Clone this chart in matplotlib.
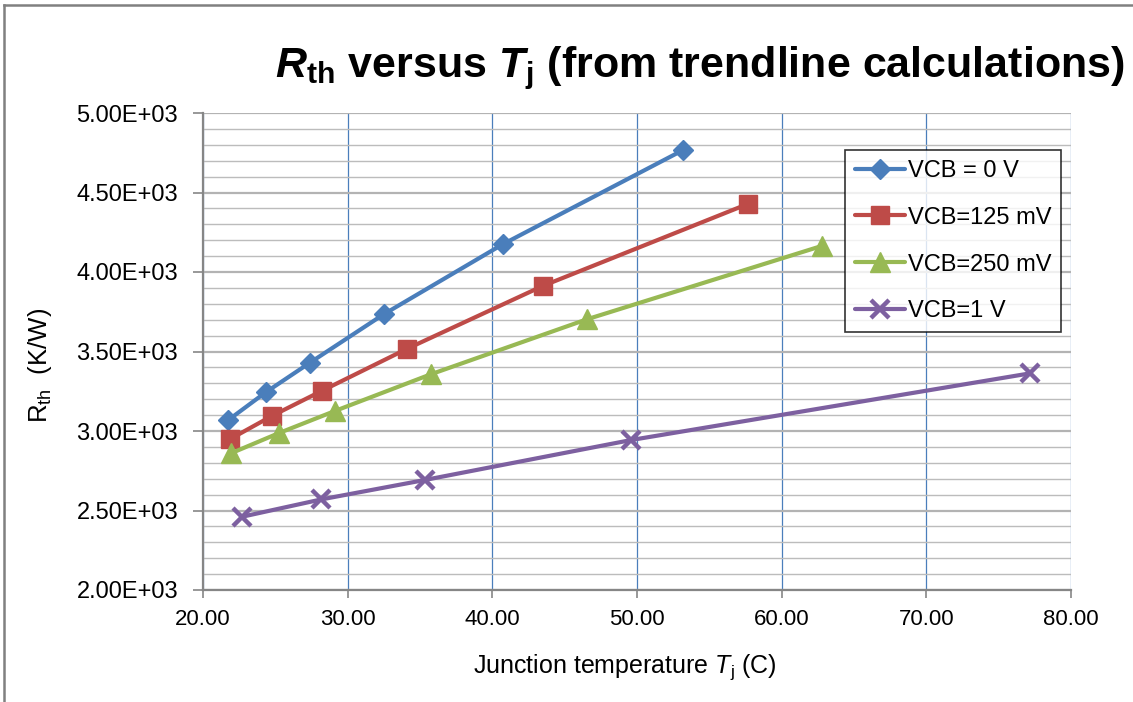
import matplotlib
matplotlib.use("Agg")
import matplotlib.pyplot as plt
from matplotlib.lines import Line2D
from matplotlib.ticker import MultipleLocator, FuncFormatter

# Junction temperature (C) and thermal resistance (K/W) for each collector-base bias
series_labels = ["VCB = 0 V", "VCB=125 mV", "VCB=250 mV", "VCB=1 V"]

tj_0v = [21.75, 24.33, 27.40, 32.49, 40.71, 53.19]
rth_0v = [3069, 3243, 3430, 3734, 4174, 4767]

tj_125mv = [21.89, 24.79, 28.25, 34.08, 43.48, 57.66]
rth_125mv = [2950, 3096, 3254, 3516, 3912, 4428]

tj_250mv = [21.94, 25.25, 29.12, 35.76, 46.52, 62.78]
rth_250mv = [2860, 2987, 3126, 3357, 3702, 4164]

tj_1v = [22.72, 28.19, 35.34, 49.58, 77.20]
rth_1v = [2461, 2570, 2692, 2943, 3363]

x_ticks = [20, 30, 40, 50, 60, 70, 80]
y_ticks = [2000, 2500, 3000, 3500, 4000, 4500, 5000]

FONT = "Liberation Sans"
plt.rcParams["font.family"] = [FONT, "DejaVu Sans"]
plt.rcParams["mathtext.fontset"] = "custom"
plt.rcParams["mathtext.rm"] = FONT
plt.rcParams["mathtext.it"] = FONT + ":italic"
plt.rcParams["mathtext.bf"] = FONT + ":bold"
plt.rcParams["mathtext.bfit"] = FONT + ":italic:bold"
plt.rcParams["mathtext.sf"] = FONT

W, H = 1133, 702
fig = plt.figure(figsize=(W / 100, H / 100), dpi=100)
fig.patch.set_facecolor("white")

# plot area in pixel coordinates
left, right, top, bottom = 203, 1071, 113, 590
ax = fig.add_axes([left / W, 1 - bottom / H, (right - left) / W, (bottom - top) / H])

styles = [
    dict(color="#4a7ebb", marker="D", ms=10),
    dict(color="#be4b48", marker="s", ms=13),
    dict(color="#98b954", marker="^", ms=14.5),
    dict(color="#7d60a0", marker="x", ms=13.5, mew=3.2),
]
data = [(tj_0v, rth_0v), (tj_125mv, rth_125mv), (tj_250mv, rth_250mv), (tj_1v, rth_1v)]

for (xs, ys), lab, st in zip(data, series_labels, styles):
    ax.plot(xs, ys, color=st["color"], lw=3.0, marker=st["marker"], ms=st["ms"],
            mfc=st["color"], mec=st["color"], mew=st.get("mew", 1), label=lab,
            zorder=3, solid_capstyle="round", solid_joinstyle="round")

ax.set_xlim(20, 80)
ax.set_ylim(2000, 5000)
ax.set_xticks(x_ticks)
ax.set_yticks(y_ticks)
ax.yaxis.set_minor_locator(MultipleLocator(100))
ax.xaxis.set_major_formatter(FuncFormatter(lambda v, p: f"{v:.2f}"))
ax.yaxis.set_major_formatter(FuncFormatter(lambda v, p: f"{v:.2E}"))

ax.grid(True, which="major", axis="y", color="#b3b3b3", lw=1.6, zorder=1)
ax.grid(True, which="minor", axis="y", color="#bcbcbc", lw=1.0, zorder=1)
ax.grid(True, which="major", axis="x", color="#4a7ebb", lw=0.9, zorder=1)
ax.set_axisbelow(True)

for s in ["top", "right"]:
    ax.spines[s].set_visible(False)
for s in ["left", "bottom"]:
    ax.spines[s].set_color("#868686")
    ax.spines[s].set_linewidth(1.6)

ax.tick_params(axis="y", which="major", direction="out", length=7, width=1.2,
               color="#868686", pad=11, labelsize=17, labelfontfamily=FONT)
ax.tick_params(axis="y", which="minor", length=0)
ax.tick_params(axis="x", which="major", direction="out", length=6, width=1.2,
               color="#868686", pad=8, labelsize=16, labelfontfamily=FONT)

# axis titles
fig.text(625 / W, 1 - 667 / H, r"Junction temperature $T_\mathrm{j}$ (C)",
         ha="center", va="center", fontsize=18)
fig.text(40 / W, 1 - 365 / H, r"R$_{\mathrm{th}}$  (K/W)", rotation=90,
         ha="center", va="center", fontsize=18.5)

# chart title
fig.text(700 / W, 1 - 68 / H,
         r"$\mathbfit{R}_{\mathbf{th}}$ versus $\mathbfit{T}_{\mathbf{j}}$ (from trendline calculations)",
         ha="center", va="center", fontsize=31, fontweight="bold")

leg = ax.legend(loc="upper left", bbox_to_anchor=(845 / W, 1 - 150 / H),
                bbox_transform=fig.transFigure, frameon=True,
                fancybox=False, edgecolor="black", handlelength=2.1,
                handletextpad=0.13, labelspacing=1.05, borderpad=0.42,
                borderaxespad=0, prop={"family": FONT, "size": 17})
leg.get_frame().set_linewidth(1.2)
leg.set_zorder(5)

# outer chart border (left and top edges)
fig.add_artist(Line2D([4 / W, 4 / W], [0, 1 - 5 / H], transform=fig.transFigure,
                      color="#808080", lw=1.8))
fig.add_artist(Line2D([4 / W, 1], [1 - 5 / H, 1 - 5 / H], transform=fig.transFigure,
                      color="#808080", lw=1.8))

fig.savefig("out.png", dpi=100)
